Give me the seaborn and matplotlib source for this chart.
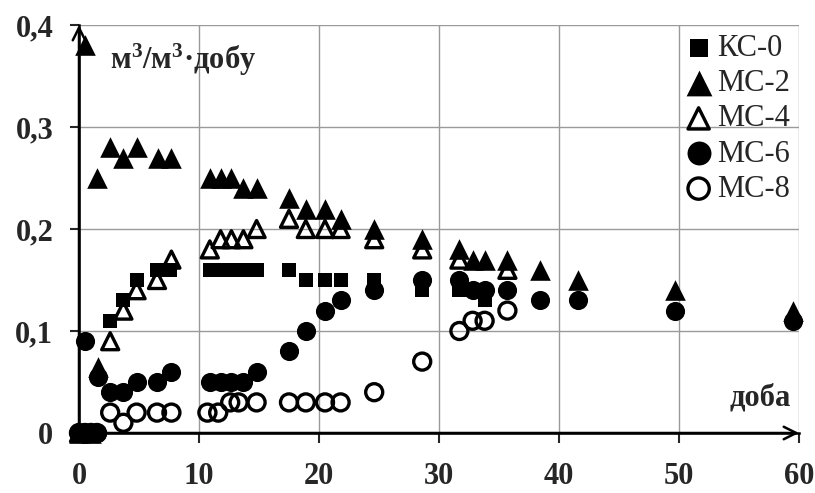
import matplotlib
matplotlib.use("Agg")
import matplotlib.pyplot as plt
import pandas as pd
import seaborn as sns

# Data (day, m3/m3 per day)
kc0_day = [0, 0.5, 1, 1.5, 2.6, 3.7, 4.8, 6.5, 7.6, 10.9, 11.8, 12.7, 13.7, 14.8,
           17.5, 18.9, 20.5, 21.8, 24.6, 28.6, 31.7, 32.8, 33.8]
kc0_val = [0, 0, 0, 0, 0.11, 0.13, 0.15, 0.16, 0.16, 0.16, 0.16, 0.16, 0.16, 0.16,
           0.16, 0.15, 0.15, 0.15, 0.15, 0.14, 0.14, 0.14, 0.13]

mc2_day = [0, 0.5, 1, 1.5, 1.6, 2.6, 3.7, 4.8, 6.6, 7.7, 10.9, 11.8, 12.7, 13.7, 14.8,
           17.5, 18.9, 20.5, 21.8, 24.6, 28.6, 31.7, 32.8, 33.8, 35.7, 38.4, 41.6, 49.7, 59.5]
mc2_val = [0, 0.38, 0, 0.25, 0.065, 0.28, 0.27, 0.28, 0.27, 0.27, 0.25, 0.25, 0.25, 0.24, 0.24,
           0.23, 0.22, 0.22, 0.21, 0.20, 0.19, 0.18, 0.17, 0.17, 0.17, 0.16, 0.15, 0.14, 0.12]

mc4_day = [0, 1, 2.6, 3.7, 4.8, 6.5, 7.7, 10.9, 11.8, 12.7, 13.7, 14.8,
           17.5, 18.9, 20.5, 21.8, 24.6, 28.6, 31.7, 35.7]
mc4_val = [0, 0, 0.09, 0.12, 0.14, 0.15, 0.17, 0.18, 0.19, 0.19, 0.19, 0.20,
           0.21, 0.20, 0.20, 0.20, 0.19, 0.18, 0.17, 0.16]

mc6_day = [0, 0.5, 1, 1.5, 1.6, 2.6, 3.7, 4.8, 6.5, 7.7, 10.9, 11.8, 12.7, 13.7, 14.8,
           17.5, 18.9, 20.5, 21.8, 24.6, 28.6, 31.7, 32.8, 33.8, 35.7, 38.4, 41.6, 49.7, 59.5]
mc6_val = [0, 0.09, 0, 0, 0.055, 0.04, 0.04, 0.05, 0.05, 0.06, 0.05, 0.05, 0.05, 0.05, 0.06,
           0.08, 0.10, 0.12, 0.13, 0.14, 0.15, 0.15, 0.14, 0.14, 0.14, 0.13, 0.13, 0.12, 0.11]

mc8_day = [0, 0.5, 1, 1.5, 2.6, 3.7, 4.8, 6.5, 7.7, 10.7, 11.6, 12.6, 13.3, 14.8,
           17.5, 18.9, 20.5, 21.8, 24.6, 28.6, 31.7, 32.8, 33.8, 35.7]
mc8_val = [0, 0, 0, 0, 0.02, 0.01, 0.02, 0.02, 0.02, 0.02, 0.02, 0.03, 0.03, 0.03,
           0.03, 0.03, 0.03, 0.03, 0.04, 0.07, 0.10, 0.11, 0.11, 0.12]

x_ticks = [0, 10, 20, 30, 40, 50, 60]
y_ticks = [0, 0.1, 0.2, 0.3, 0.4]
y_tick_labels = ["0", "0,1", "0,2", "0,3", "0,4"]

sns.set_style("white")
plt.rcParams["font.family"] = ["Liberation Serif", "DejaVu Serif"]
plt.rcParams["mathtext.fontset"] = "custom"
plt.rcParams["mathtext.rm"] = "Liberation Serif:bold"
plt.rcParams["mathtext.default"] = "rm"

fig = plt.figure(figsize=(8.15, 4.93), dpi=100)
ax = fig.add_axes([79 / 815, 60 / 493, 720 / 815, 408 / 493])

series = [
    ("КС-0", kc0_day, kc0_val, "s", 110, True),
    ("МС-2", mc2_day, mc2_val, "^", 220, True),
    ("МС-4", mc4_day, mc4_val, "^", 150, False),
    ("МС-6", mc6_day, mc6_val, "o", 190, True),
    ("МС-8", mc8_day, mc8_val, "o", 150, False),
]

for name, days, vals, mk, size, filled in series:
    df = pd.DataFrame({"day": days, "val": vals})
    if filled:
        sns.scatterplot(data=df, x="day", y="val", ax=ax, marker=mk, s=size,
                        color="black", edgecolor="black", linewidth=0,
                        label=name, clip_on=False, zorder=3)
    else:
        sns.scatterplot(data=df, x="day", y="val", ax=ax, marker=mk, s=size,
                        facecolor="none", edgecolor="black", linewidth=2.4,
                        label=name, clip_on=False, zorder=3)

ax.set_xlim(0, 60)
ax.set_ylim(0, 0.4)
ax.set_xticks(x_ticks)
ax.set_xticklabels([str(t) for t in x_ticks], fontsize=22, fontweight="bold")
ax.set_yticks(y_ticks)
ax.set_yticklabels(y_tick_labels, fontsize=22, fontweight="bold")
ax.tick_params(axis="x", direction="out", length=7, width=1.5, pad=14, bottom=True)
ax.tick_params(axis="y", direction="out", length=6.5, width=1.5, pad=12, left=True)
ax.set_xlabel("")
ax.set_ylabel("")

ax.grid(True, color="#9a9a9a", linewidth=1)
ax.set_axisbelow(True)
for side in ["top", "right"]:
    ax.spines[side].set_visible(False)
for side in ["left", "bottom"]:
    ax.spines[side].set_color("black")
    ax.spines[side].set_linewidth(1.8)

# axis arrows
arrow = dict(arrowstyle="->,head_length=0.9,head_width=0.45", lw=1.8, color="black",
             shrinkA=0, shrinkB=0)
ax.annotate("", xy=(60, 0), xytext=(0, 0), arrowprops=arrow, annotation_clip=False)
ax.annotate("", xy=(0, 0.4), xytext=(0, 0), arrowprops=arrow, annotation_clip=False)

ax.text(2.6, 0.366, r"м$^3$/м$^3$·добу", fontsize=22, fontweight="bold", ha="left", va="center")
ax.text(59.3, 0.034, "доба", fontsize=22, fontweight="bold", ha="right", va="center")

ax.legend(loc="upper right", frameon=False, fontsize=22, labelspacing=0.2,
          handlelength=0.8, handletextpad=0.2, borderaxespad=0.1, borderpad=0.2,
          markerscale=1.25)

fig.savefig("out.png", dpi=100)
